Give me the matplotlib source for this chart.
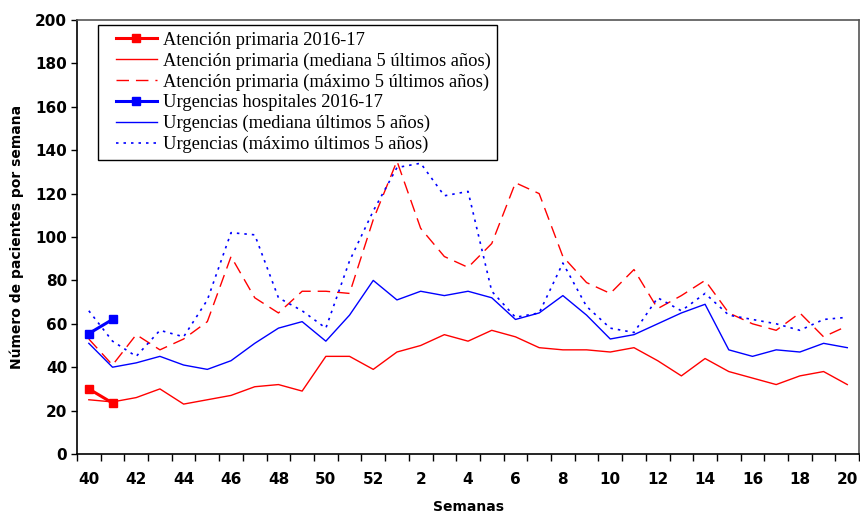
import matplotlib
matplotlib.use("Agg")
import matplotlib.pyplot as plt
from matplotlib.ticker import FixedLocator
from matplotlib.legend_handler import HandlerLine2D

# semanas epidemiológicas 40-52 y 1-20
semanas = list(range(40, 53)) + list(range(1, 21))

ap_actual = [30, 23.5]
ap_mediana = [25, 24, 26, 30, 23, 25, 27, 31, 32, 29, 45, 45, 39, 47, 50, 55, 52,
              57, 54, 49, 48, 48, 47, 49, 43, 36, 44, 38, 35, 32, 36, 38, 32]
ap_maximo = [53, 41, 55, 48, 53, 61, 91, 72, 65, 75, 75, 74, 108, 135, 104, 91, 86,
             97, 125, 120, 91, 79, 74, 85, 67, 73, 80, 65, 60, 57, 65, 54, 59]

urg_actual = [55.5, 62]
urg_mediana = [51, 40, 42, 45, 41, 39, 43, 51, 58, 61, 52, 64, 80, 71, 75, 73, 75,
               72, 62, 65, 73, 64, 53, 55, 60, 65, 69, 48, 45, 48, 47, 51, 49]
urg_maximo = [66, 52, 45, 57, 54, 71, 102, 101, 72, 66, 58, 89, 112, 132, 134, 119, 121,
              75, 63, 65, 88, 68, 58, 56, 72, 66, 74, 64, 62, 60, 57, 62, 63]

x = list(range(len(semanas)))
rojo = "#FF0000"
azul = "#0000FF"


class LineaCorta(HandlerLine2D):
    # deja un hueco a la izquierda de la muestra de línea
    def get_xdata(self, legend, xdescent, ydescent, width, height, fontsize):
        inicio = -xdescent + 8
        fin = -xdescent + width
        return [inicio, fin], [(inicio + fin) / 2]


fig = plt.figure(figsize=(8.6, 5.13), dpi=100)
ax = fig.add_axes([0.0895, 0.115, 0.9095, 0.846])

ax.plot(x[:len(ap_actual)], ap_actual, color=rojo, lw=2.2, marker="s", ms=6,
        label="Atención primaria 2016-17")
ax.plot(x, ap_mediana, color=rojo, lw=1, label="Atención primaria (mediana 5 últimos años)")
ax.plot(x, ap_maximo, color=rojo, lw=1, dashes=(9, 5),
        label="Atención primaria (máximo 5 últimos años)")
ax.plot(x[:len(urg_actual)], urg_actual, color=azul, lw=2.2, marker="s", ms=6,
        label="Urgencias hospitales 2016-17")
ax.plot(x, urg_mediana, color=azul, lw=1, label="Urgencias (mediana últimos 5 años)")
ax.plot(x, urg_maximo, color=azul, lw=1.2, dashes=(1.5, 3),
        label="Urgencias (máximo últimos 5 años)")

ax.set_xlim(-0.5, len(semanas) - 0.5)
ax.set_ylim(0, 200)
ax.set_yticks(range(0, 201, 20))
ax.set_xticks(x[::2])
ax.set_xticklabels([str(s) for s in semanas[::2]])
ax.xaxis.set_minor_locator(FixedLocator([i - 0.5 for i in range(len(semanas) + 1)]))
ax.tick_params(axis="x", which="major", length=0, pad=13)
ax.tick_params(axis="x", which="minor", length=5, direction="out", width=1)
ax.tick_params(axis="y", length=4, direction="out", width=1, pad=3)
for lab in ax.get_xticklabels() + ax.get_yticklabels():
    lab.set_fontweight("bold")
    lab.set_fontsize(11)

for s in ["left", "bottom"]:
    ax.spines[s].set_color("black")
    ax.spines[s].set_linewidth(1.2)
for s in ["top", "right"]:
    ax.spines[s].set_color("#555555")
    ax.spines[s].set_linewidth(1.2)

ax.set_ylabel("Número de pacientes por semana", fontsize=10, fontweight="bold", labelpad=8)
ax.set_xlabel("Semanas", fontsize=10, fontweight="bold", labelpad=9)

leg = ax.legend(loc="upper left", bbox_to_anchor=(0.027, 0.988), borderaxespad=0,
                fancybox=False, edgecolor="black", framealpha=1,
                prop={"family": "Liberation Serif", "size": 13.3},
                labelspacing=0.2, handlelength=2.84, handletextpad=0.3, borderpad=0.35,
                handler_map={plt.Line2D: LineaCorta()})
leg.get_frame().set_linewidth(1)

fig.savefig("out.png", dpi=100)
